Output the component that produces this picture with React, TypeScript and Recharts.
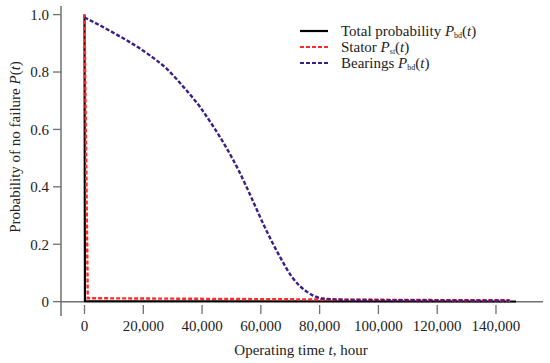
import React from "react";
import { LineChart, Line, XAxis, YAxis, ReferenceLine } from "recharts";

const xTicks = [0, 20000, 40000, 60000, 80000, 100000, 120000, 140000];
const yTicks = [0, 0.2, 0.4, 0.6, 0.8, 1.0];

const totalT = [0, 150, 146800];
const totalP = [1, 0.002, 0.0005];

const statorT = [0, 1100, 145000];
const statorP = [1, 0.012, 0.004];

const bearT = [0, 9800, 21400, 28100, 33600, 39300, 43700, 48400, 52700, 56800, 61400, 66400, 70800, 75600, 81000, 90000, 144500];
const bearP = [0.99, 0.937, 0.864, 0.81, 0.749, 0.678, 0.612, 0.534, 0.452, 0.362, 0.258, 0.158, 0.083, 0.035, 0.011, 0.006, 0.004];

const zip = (t: number[], p: number[]) => t.map((v, i) => ({ t: v, p: p[i] }));
const totalData = zip(totalT, totalP);
const statorData = zip(statorT, statorP);
const bearData = zip(bearT, bearP);

const FONT = "'Liberation Serif', 'Times New Roman', serif";
const AXIS = "#6f6f6f";
const RED = "#ff2b2b";
const BLUE = "#3a1f86";

const fmtX = (v: number) => (v === 0 ? "0" : v.toLocaleString("en-US"));
const fmtY = (v: number) => (v === 0 ? "0" : v.toFixed(1));

const XTick = (props: any) => {
  const { x, y, payload } = props;
  return (
    <g>
      <line x1={x} x2={x} y1={y - 13} y2={y - 4} stroke={AXIS} strokeWidth={1.3} />
      <text x={x} y={y + 13} textAnchor="middle" fontFamily={FONT} fontSize={15} fill="#222">
        {fmtX(payload.value)}
      </text>
    </g>
  );
};

const legendItems = [
  { name: "Total probability ", sub: "bd", color: "#000", dash: undefined as string | undefined },
  { name: "Stator ", sub: "st", color: RED, dash: "4 2" },
  { name: "Bearings ", sub: "bd", color: BLUE, dash: "4 2" },
];

const LegendBox = () => (
  <svg width={250} height={62} style={{ position: "absolute", left: 295, top: 20 }}>
    {legendItems.map((it, i) => {
      const cy = 11 + i * 16;
      return (
        <g key={i}>
          <line x1={5} x2={33} y1={cy} y2={cy} stroke={it.color} strokeWidth={2.2} strokeDasharray={it.dash} />
          <text x={46} y={cy + 5} fontFamily={FONT} fontSize={15} fill="#222">
            {it.name}
            <tspan fontStyle="italic">P</tspan>
            <tspan fontSize={8} dy={2}>{it.sub}</tspan>
            <tspan dy={-2}>(</tspan>
            <tspan fontStyle="italic">t</tspan>
            <tspan>)</tspan>
          </text>
        </g>
      );
    })}
  </svg>
);

const YLabel = () => (
  <text
    x={0}
    y={0}
    transform="translate(20,147) rotate(-90)"
    textAnchor="middle"
    fontFamily={FONT}
    fontSize={15}
    fill="#222"
  >
    Probability of no failure <tspan fontStyle="italic">P</tspan>(<tspan fontStyle="italic">t</tspan>)
  </text>
);

const XLabel = () => (
  <text x={301} y={355} textAnchor="middle" fontFamily={FONT} fontSize={15} fill="#222">
    Operating time <tspan fontStyle="italic">t</tspan>, hour
  </text>
);

export default function App() {
  return (
    <div style={{ position: "fixed", left: 0, top: 0, width: 550, height: 363, background: "#fff" }}>
      <LineChart width={550} height={363} margin={{ top: 6, right: 7, bottom: 0, left: 0 }}>
        <XAxis
          dataKey="t"
          type="number"
          domain={[-8000, 156000]}
          ticks={xTicks}
          axisLine={false}
          tickLine={false}
          tickSize={0}
          tick={<XTick />}
          interval={0}
          allowDataOverflow
          height={47}
          label={<XLabel />}
        />
        <YAxis
          type="number"
          domain={[-0.05, 1.03]}
          ticks={yTicks}
          width={61}
          tickFormatter={fmtY}
          axisLine={{ stroke: AXIS, strokeWidth: 1.5 }}
          tickLine={{ stroke: AXIS, strokeWidth: 1.3 }}
          tickSize={8}
          tickMargin={4}
          tick={{ fontFamily: FONT, fontSize: 15, fill: "#222" }}
          interval={0}
          allowDataOverflow
          label={<YLabel />}
        />
        <ReferenceLine y={0} stroke={AXIS} strokeWidth={1.5} />
        <Line data={totalData} dataKey="p" type="linear" stroke="#000" strokeWidth={2.2} dot={false} isAnimationActive={false} name="Total" />
        <Line data={statorData} dataKey="p" type="linear" stroke={RED} strokeWidth={2.4} strokeDasharray="4 2" dot={false} isAnimationActive={false} name="Stator" />
        <Line data={bearData} dataKey="p" type="monotone" stroke={BLUE} strokeWidth={2.4} strokeDasharray="4 2" dot={false} isAnimationActive={false} name="Bearings" />
      </LineChart>
      <LegendBox />
    </div>
  );
}
